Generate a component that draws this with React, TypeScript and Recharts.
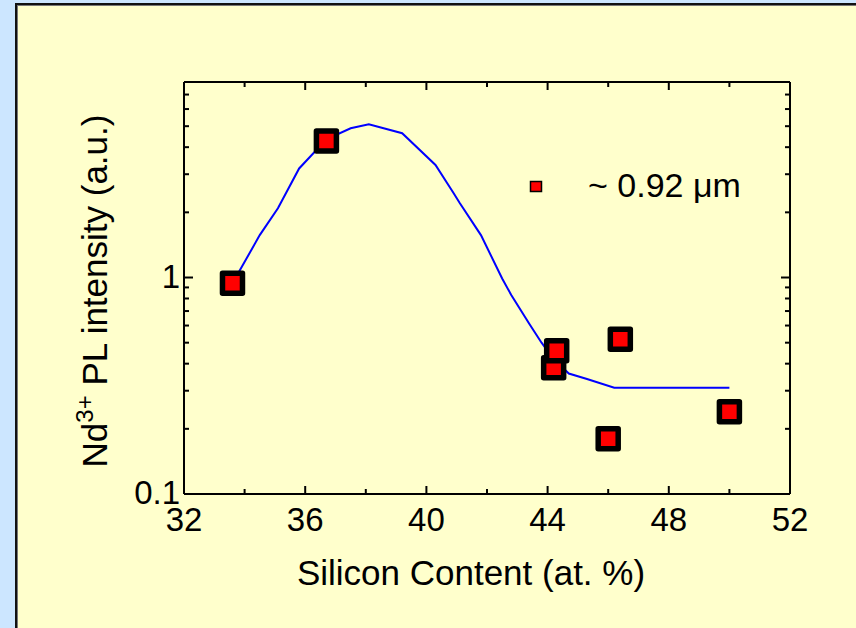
import React from 'react';
import { ComposedChart, Line, Scatter, XAxis, YAxis, Legend, ReferenceLine, Label } from 'recharts';

// Measured data points
const siliconContent = [33.6, 36.7, 44.2, 44.3, 46.0, 46.4, 50.0];
const plIntensity = [0.94, 4.27, 0.383, 0.459, 0.18, 0.518, 0.24];

// Fit curve
const fitSilicon = [33.6, 34.5, 35.1, 35.8, 36.7, 37.5, 38.1, 39.2, 40.3, 40.9, 41.1, 41.8, 42.5, 42.8, 43.4, 43.8, 44.2, 44.7, 45.3, 46.2, 46.7, 50.0];
const fitIntensity = [0.94, 1.57, 2.09, 3.19, 4.35, 4.89, 5.10, 4.64, 3.31, 2.45, 2.21, 1.57, 0.99, 0.83, 0.61, 0.50, 0.42, 0.36, 0.34, 0.31, 0.31, 0.31];

// Axis ticks
const xTicks = [32, 34, 36, 38, 40, 42, 44, 46, 48, 50, 52];
const xLabeled = [32, 36, 40, 44, 48, 52];
const yTicks = [0.1, 0.2, 0.3, 0.4, 0.5, 0.6, 0.7, 0.8, 0.9, 1, 2, 3, 4, 5, 6, 7, 8];
const yLabeled = [0.1, 1];
const xDomain = [32, 52];
const yDomain = [0.1, 8];

const legendLabel = '~ 0.92 \u03bcm';
const xTitle = 'Silicon Content (at. %)';

const points = siliconContent.map((x, i) => ({ x, y: plIntensity[i] }));
const fit = fitSilicon.map((x, i) => ({ x, y: fitIntensity[i] }));

const W = 856;
const H = 628;
const PLOT = { left: 184, right: 790, top: 82, bottom: 494 };
const YAXIS_W = 60;
const XAXIS_H = 60;
const FONT = '"Liberation Sans", Arial, Helvetica, sans-serif';

const XTick = (props: any) => {
  const { x, y, payload } = props;
  const v = payload.value;
  const major = xLabeled.includes(v);
  const len = major ? 8 : 5;
  return (
    <g>
      <line x1={x} x2={x} y1={y} y2={y - len} stroke="#000" strokeWidth={2} />
      <line x1={x} x2={x} y1={PLOT.top} y2={PLOT.top + len} stroke="#000" strokeWidth={2} />
      {major && (
        <text x={x} y={y + 37} textAnchor="middle" fontSize={33} fontFamily={FONT} fill="#000">
          {String(v)}
        </text>
      )}
    </g>
  );
};

const YTick = (props: any) => {
  const { x, y, payload } = props;
  const v = payload.value;
  const major = yLabeled.includes(v);
  const len = major ? 9 : 5;
  return (
    <g>
      <line x1={x} x2={x + len} y1={y} y2={y} stroke="#000" strokeWidth={2} />
      <line x1={PLOT.right} x2={PLOT.right - len} y1={y} y2={y} stroke="#000" strokeWidth={2} />
      {major && (
        <text x={x - 4} y={y + 10} textAnchor="end" fontSize={33} fontFamily={FONT} fill="#000">
          {String(v)}
        </text>
      )}
    </g>
  );
};

const YTitle = () => (
  <text
    transform="translate(107, 291) rotate(-90)"
    textAnchor="middle"
    fontSize={35}
    fontFamily={FONT}
    fill="#000"
    style={{ whiteSpace: 'pre' }}
  >
    <tspan>Nd</tspan>
    <tspan dy={-14} fontSize={24}>3+</tspan>
    <tspan dy={14}> PL intensity (a.u.)</tspan>
  </text>
);

const XTitle = () => (
  <text x={471} y={585} textAnchor="middle" fontSize={35} fontFamily={FONT} fill="#000">
    {xTitle}
  </text>
);

const Marker = (props: any) => {
  const { cx, cy } = props;
  const s = 20;
  return (
    <rect
      x={cx - s / 2}
      y={cy - s / 2}
      width={s}
      height={s}
      fill="#ff0000"
      stroke="#000"
      strokeWidth={5.5}
      strokeLinejoin="round"
    />
  );
};

const LegendContent = () => (
  <svg width={240} height={50} style={{ display: 'block' }}>
    <rect x={2.5} y={21.5} width={11} height={10} fill="#ff0000" stroke="#000" strokeWidth={1.5} />
    <text x={60} y={37} fontSize={34} fontFamily={FONT} fill="#000">
      {legendLabel}
    </text>
  </svg>
);

export default function App() {
  return (
    <div style={{ position: 'absolute', left: 0, top: 0, width: W, height: H, background: '#cce6ff', overflow: 'hidden' }}>
      <div
        style={{
          position: 'absolute',
          left: 15,
          top: 3,
          width: W,
          height: H,
          background: '#ffffcc',
          borderLeft: '2px solid #111',
          borderTop: '2px solid #111',
          boxShadow: 'inset 1px 1px 0 #777',
        }}
      />
      <div style={{ position: 'absolute', left: 0, top: 0 }}>
        <ComposedChart
          width={W}
          height={H}
          margin={{
            top: PLOT.top,
            right: W - PLOT.right,
            bottom: H - PLOT.bottom - XAXIS_H,
            left: PLOT.left - YAXIS_W,
          }}
        >
          <XAxis
            dataKey="x"
            type="number"
            domain={xDomain}
            ticks={xTicks}
            interval={0}
            allowDataOverflow
            height={XAXIS_H}
            tickSize={0}
            tickMargin={0}
            tickLine={false}
            axisLine={{ stroke: '#000', strokeWidth: 2 }}
            tick={<XTick />}
          >
            <Label content={<XTitle />} />
          </XAxis>
          <YAxis
            type="number"
            scale="log"
            domain={yDomain}
            ticks={yTicks}
            interval={0}
            allowDataOverflow
            width={YAXIS_W}
            tickSize={0}
            tickMargin={0}
            tickLine={false}
            axisLine={{ stroke: '#000', strokeWidth: 2 }}
            tick={<YTick />}
          >
            <Label content={<YTitle />} />
          </YAxis>
          <ReferenceLine y={8} stroke="#000" strokeWidth={2} />
          <ReferenceLine x={52} stroke="#000" strokeWidth={2} />
          <Scatter data={points} dataKey="y" shape={<Marker />} isAnimationActive={false} />
          <Line
            data={fit}
            dataKey="y"
            type="linear"
            stroke="#0000ff"
            strokeWidth={2}
            dot={false}
            activeDot={false}
            isAnimationActive={false}
          />
          <Legend
            layout="horizontal"
            verticalAlign="middle"
            align="center"
            wrapperStyle={{ position: 'absolute', left: 528, top: 160, width: 240, height: 50 }}
            content={<LegendContent />}
          />
        </ComposedChart>
      </div>
    </div>
  );
}
